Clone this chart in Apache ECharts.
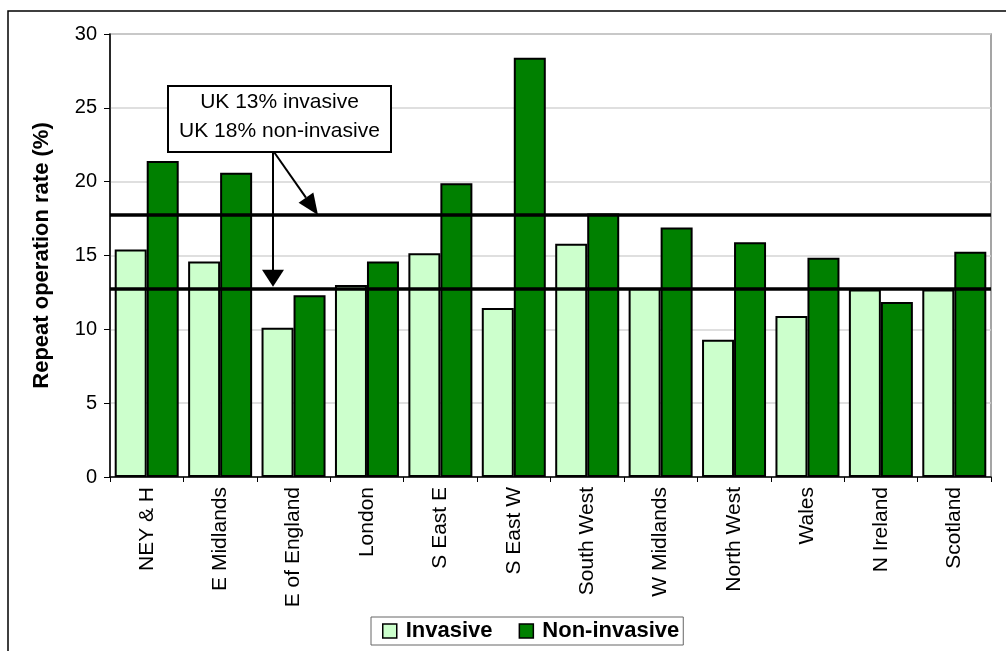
<!DOCTYPE html>
<html>
<head>
<meta charset="utf-8">
<script src="https://cdn.jsdelivr.net/npm/echarts@6/dist/echarts.min.js"></script>
<style>
html,body{margin:0;padding:0;background:#fff;}
#chart{width:1006px;height:651px;}
</style>
</head>
<body>
<div id="chart"></div>
<script>
const categories = ['NEY & H','E Midlands','E of England','London','S East E','S East W','South West','W Midlands','North West','Wales','N Ireland','Scotland'];
const invasive = [15.4, 14.6, 10.1, 13.0, 15.15, 11.45, 15.8, 12.8, 9.3, 10.9, 12.7, 12.7];
const nonInvasive = [21.4, 20.6, 12.3, 14.6, 19.9, 28.4, 17.85, 16.9, 15.9, 14.85, 11.85, 15.25];
const ukInvasive = 12.75;
const ukNonInvasive = 17.75;
const annotationLines = ['UK 13% invasive', 'UK 18% non-invasive'];
const yTicks = [0, 5, 10, 15, 20, 25, 30];

const FONT = 'Liberation Sans, Arial, sans-serif';
const chart = echarts.init(document.getElementById('chart'));

const option = {
  animation: false,
  backgroundColor: '#fff',
  textStyle: { fontFamily: FONT },
  grid: { left: 110, right: 15, top: 34, bottom: 174, show: true, borderColor: '#888', borderWidth: 1.5, backgroundColor: 'transparent' },
  legend: {
    data: ['Invasive', 'Non-invasive'],
    left: 371, top: 617,
    itemWidth: 14, itemHeight: 14, itemGap: 26,
    icon: 'rect',
    borderColor: '#666', borderWidth: 1,
    padding: [3, 4, 3, 11],
    textStyle: { fontFamily: FONT, fontSize: 22, fontWeight: 'bold', color: '#000', padding: [0, 0, 0, 4] },
    itemStyle: { borderColor: '#000', borderWidth: 1.5 }
  },
  xAxis: {
    type: 'category',
    data: categories,
    axisLine: { lineStyle: { color: '#000', width: 1.5 } },
    axisTick: { show: true, length: 5, lineStyle: { color: '#000' } },
    axisLabel: { rotate: 90, fontSize: 21, color: '#000', margin: 10, fontFamily: FONT }
  },
  yAxis: {
    type: 'value', min: 0, max: 30, interval: 5,
    name: 'Repeat operation rate (%)',
    nameLocation: 'middle', nameGap: 57,
    nameTextStyle: { fontSize: 22, fontWeight: 'bold', color: '#000', fontFamily: FONT },
    axisLine: { show: true, lineStyle: { color: '#000', width: 1.5 } },
    axisTick: { show: true, length: 6, inside: false, lineStyle: { color: '#000' } },
    axisLabel: { fontSize: 20, color: '#000', margin: 13, fontFamily: FONT,
      formatter: v => yTicks.includes(v) ? String(v) : '' },
    splitLine: { show: true, lineStyle: { color: '#d4d4d4', width: 1.5 } }
  },
  series: [
    {
      name: 'Invasive', type: 'bar', data: invasive,
      barWidth: 32, barGap: '0%',
      itemStyle: { color: '#ccffcc', borderColor: '#000', borderWidth: 2 }
    },
    {
      name: 'Non-invasive', type: 'bar', data: nonInvasive,
      barWidth: 32,
      itemStyle: { color: '#008000', borderColor: '#000', borderWidth: 2 },
      markLine: {
        silent: true, symbol: 'none', animation: false,
        label: { show: false },
        lineStyle: { color: '#000', width: 3.5, type: 'solid' },
        data: [{ yAxis: ukNonInvasive }, { yAxis: ukInvasive }]
      }
    }
  ]
};
chart.setOption(option);

// Annotation (callout box with arrows) positioned relative to the reference lines
const yHi = chart.convertToPixel({ yAxisIndex: 0 }, ukNonInvasive);
const yLo = chart.convertToPixel({ yAxisIndex: 0 }, ukInvasive);
const boxX = 168, boxY = 86, boxW = 223, boxH = 66;
const vx = 273;
const tip2 = [318, yHi];
const start2 = [274, boxY + boxH];
const dx = tip2[0] - start2[0], dy = tip2[1] - start2[1];
const L = Math.sqrt(dx * dx + dy * dy);
const ux = dx / L, uy = dy / L;
const hl = 21, hw = 9;
const bx = tip2[0] - ux * hl, by = tip2[1] - uy * hl;

chart.setOption({
  graphic: [
    { type: 'rect', shape: { x: 8, y: 11, width: 1200, height: 1000 }, style: { fill: 'none', stroke: '#000', lineWidth: 1.5 }, silent: true, z: 100 },
    { type: 'line', shape: { x1: vx, y1: boxY + boxH, x2: vx, y2: yLo - 16 }, style: { stroke: '#000', lineWidth: 2 }, z: 100 },
    { type: 'polygon', shape: { points: [[vx - 11, yLo - 19], [vx + 11, yLo - 19], [vx, yLo - 2]] }, style: { fill: '#000' }, z: 100 },
    { type: 'line', shape: { x1: start2[0], y1: start2[1], x2: bx, y2: by }, style: { stroke: '#000', lineWidth: 2 }, z: 100 },
    { type: 'polygon', shape: { points: [[bx - uy * hw, by + ux * hw], [bx + uy * hw, by - ux * hw], tip2] }, style: { fill: '#000' }, z: 100 },
    { type: 'rect', shape: { x: boxX, y: boxY, width: boxW, height: boxH }, style: { fill: '#fff', stroke: '#000', lineWidth: 2 }, z: 101 },
    { type: 'text', x: boxX + boxW / 2, y: boxY + 16, style: { text: annotationLines[0], font: '21px ' + FONT, fill: '#000', textAlign: 'center', textVerticalAlign: 'middle' }, z: 102 },
    { type: 'text', x: boxX + boxW / 2, y: boxY + 45, style: { text: annotationLines[1], font: '21px ' + FONT, fill: '#000', textAlign: 'center', textVerticalAlign: 'middle' }, z: 102 }
  ]
});
</script>
</body>
</html>
